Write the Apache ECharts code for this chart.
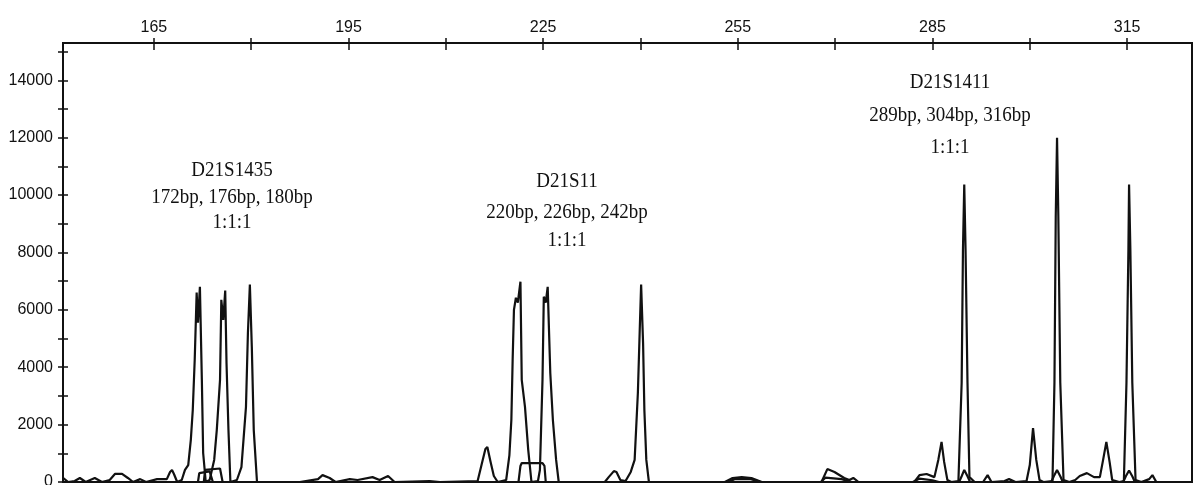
<!DOCTYPE html>
<html>
<head>
<meta charset="utf-8">
<script src="https://cdn.jsdelivr.net/npm/echarts@6/dist/echarts.min.js"></script>
<style>
html,body{margin:0;padding:0;background:#fff;}
#chart{width:1196px;height:485px;}
</style>
</head>
<body>
<div id="chart"></div>
<script>
// ---- data (size in bp, signal in RFU) ----
const xTickValues = [165, 180, 195, 210, 225, 240, 255, 270, 285, 300, 315];
const xLabelValues = [165, 195, 225, 255, 285, 315];
const yTickValues = [0,1000,2000,3000,4000,5000,6000,7000,8000,9000,10000,11000,12000,13000,14000,15000];
const yLabelValues = [0,2000,4000,6000,8000,10000,12000,14000];

// main trace
const traceA = [
  [151.0,140],[151.8,0],[152.8,35],[153.6,140],[154.5,0],[155.9,140],[157.0,0],[158.2,70],[159.0,280],[160.1,280],
  [161.0,140],[161.8,0],[162.9,100],[163.8,0],[165.5,100],[167.0,100],[167.5,350],[167.8,420],[168.1,280],[168.6,0],
  [169.3,70],[169.8,420],[170.3,590],[170.7,1470],[171.0,2510],[171.3,4260],[171.6,6600],[171.8,5550],[172.1,6800],
  [172.4,3560],[172.6,1010],[173.0,0],[173.6,70],[174.3,770],[174.7,1810],[175.2,3560],[175.4,6350],[175.7,5650],
  [176.0,6670],[176.2,4150],[176.5,1810],[176.8,0],[177.8,70],[178.5,520],[179.2,2620],[179.5,5200],[179.8,6880],
  [180.1,4710],[180.4,1810],[180.9,0],
  [187.5,0],[190.3,100],[191.0,240],[192.1,140],[193.0,0],[195.2,100],[196.4,70],[198.7,170],[199.8,70],[201.1,210],
  [202.1,0],[207.5,35],[209.1,0],[214.9,35],[215.5,590],[216.1,1150],[216.4,1220],[216.9,700],[217.4,210],[218.0,0],
  [219.3,70],[219.8,940],[220.1,2160],[220.3,4260],[220.5,6000],[220.8,6420],[221.1,6250],[221.5,6980],[221.7,3560],
  [222.2,2620],[222.7,1120],[223.2,0],[224.2,35],[224.5,420],[224.9,3560],[225.1,6460],[225.4,6250],[225.7,6800],
  [226.1,3800],[226.5,2160],[227.0,770],[227.4,0],
  [234.5,0],[235.1,170],[235.9,380],[236.3,350],[236.9,70],[237.7,35],[238.5,350],[239.1,770],[239.6,3110],[239.9,5410],
  [240.1,6880],[240.4,4850],[240.6,2510],[240.9,770],[241.3,0],
  [253.0,0],[254.2,140],[255.6,170],[257.1,140],[258.7,0],
  [267.9,0],[268.8,450],[269.9,350],[271.4,140],[272.2,70],[272.8,140],[273.6,0],
  [282.2,0],[283.0,240],[284.1,280],[285.3,170],[285.9,770],[286.4,1400],[286.8,700],[287.3,70],[287.9,0],
  [289.0,35],[289.5,3460],[289.7,8100],[289.9,10370],[290.1,8100],[290.4,3460],[290.7,170],[291.5,0],
  [292.8,0],[293.5,240],[294.1,0],[296.1,35],[296.8,100],[297.8,0],[299.5,35],[300.0,590],[300.5,1880],[301.0,770],
  [301.5,70],[302.1,0],[303.5,35],[303.8,3460],[304.0,9250],[304.2,12000],[304.4,9250],[304.7,3460],[305.2,70],[306.1,0],
  [307.0,70],[307.7,210],[308.8,310],[309.9,170],[310.8,170],[311.3,770],[311.8,1400],[312.3,700],[312.7,70],[313.8,0],
  [314.5,35],[314.9,3460],[315.2,8100],[315.3,10370],[315.5,8100],[315.8,3460],[316.3,70],[317.2,0],
  [318.4,100],[318.9,240],[319.5,0],[324.9,0]
];

// secondary traces (small overlapping peaks)
const traceB = [
  [151.0,0],[171.8,0],[172.0,310],[172.3,370],[173.6,370],[173.9,310],[174.1,0],
  [221.2,0],[221.5,560],[221.7,660],[224.9,660],[225.2,560],[225.4,0],
  [253.5,0],[254.5,100],[257.0,100],[258.5,0],
  [267.8,0],[268.5,150],[271.0,100],[272.5,0],
  [282.0,0],[283.0,120],[285.0,60],[286.0,0],
  [289.1,0],[289.5,200],[289.9,420],[290.4,200],[290.8,0],
  [303.3,0],[303.7,200],[304.2,420],[304.7,200],[305.1,0],
  [314.4,0],[314.8,200],[315.3,400],[315.8,200],[316.2,0],[324.9,0]
];
const traceC = [
  [172.7,0],[172.9,420],[173.2,470],[175.2,470],[175.4,420],[175.6,0]
];

const markers = [
  {lines: ['D21S1435', '172bp, 176bp, 180bp', '1:1:1'], x: 232, ys: [170, 197, 222]},
  {lines: ['D21S11', '220bp, 226bp, 242bp', '1:1:1'], x: 567, ys: [181, 212, 240]},
  {lines: ['D21S1411', '289bp, 304bp, 316bp', '1:1:1'], x: 950, ys: [82, 115, 147]}
];

const xMin = 151, xMax = 325, yMin = 0, yMax = 15300;
const axisFont = "'Liberation Sans', Arial, sans-serif";

const chart = echarts.init(document.getElementById('chart'), null, {renderer: 'canvas'});

const gridRect = {left: 63, top: 43, right: 4, bottom: 3};

const graphics = [];
markers.forEach(m => {
  m.lines.forEach((t, i) => {
    graphics.push({
      type: 'text', x: m.x, y: m.ys[i], scaleY: 1.12,
      style: {text: t, fill: '#111', font: "19px 'Liberation Serif', 'Times New Roman', serif",
              textAlign: 'center', textVerticalAlign: 'middle'}
    });
  });
});

const lineStyle = {color: '#111', width: 2.2};
const plain = v => String(v);

chart.setOption({
  animation: false,
  backgroundColor: '#fff',
  grid: [
    Object.assign({show: true, borderColor: '#111', borderWidth: 2, containLabel: false, outerBoundsMode: 'none'}, gridRect),
    Object.assign({show: false, containLabel: false, outerBoundsMode: 'none'}, gridRect)
  ],
  xAxis: [
    {
      type: 'value', gridIndex: 0, position: 'top', min: xMin, max: xMax,
      axisLine: {show: true, onZero: false, lineStyle: {color: '#111', width: 2}},
      axisTick: {show: true, inside: false, length: 5, customValues: xTickValues, lineStyle: {color: '#111', width: 1.5}},
      axisLabel: {show: true, customValues: xLabelValues, formatter: plain, color: '#111', fontFamily: axisFont, fontSize: 16, margin: 7},
      splitLine: {show: false}
    },
    {
      type: 'value', gridIndex: 1, position: 'top', min: xMin, max: xMax,
      axisLine: {show: false, onZero: false},
      axisTick: {show: true, inside: true, length: 7, customValues: xTickValues, lineStyle: {color: '#111', width: 1.5}},
      axisLabel: {show: false},
      splitLine: {show: false}
    }
  ],
  yAxis: [
    {
      type: 'value', gridIndex: 0, position: 'left', min: yMin, max: yMax,
      axisLine: {show: true, onZero: false, lineStyle: {color: '#111', width: 2}},
      axisTick: {show: true, inside: false, length: 5, customValues: yTickValues, lineStyle: {color: '#111', width: 1.5}},
      axisLabel: {show: true, customValues: yLabelValues, formatter: plain, color: '#111', fontFamily: axisFont, fontSize: 16, margin: 10},
      splitLine: {show: false}
    },
    {
      type: 'value', gridIndex: 1, position: 'left', min: yMin, max: yMax,
      axisLine: {show: false, onZero: false},
      axisTick: {show: true, inside: true, length: 5, customValues: yTickValues, lineStyle: {color: '#111', width: 1.5}},
      axisLabel: {show: false},
      splitLine: {show: false}
    }
  ],
  series: [
    {type: 'line', xAxisIndex: 0, yAxisIndex: 0, data: traceA, showSymbol: false, symbol: 'none', lineStyle: lineStyle, silent: true, clip: true},
    {type: 'line', xAxisIndex: 0, yAxisIndex: 0, data: traceB, showSymbol: false, symbol: 'none', lineStyle: lineStyle, silent: true, clip: true},
    {type: 'line', xAxisIndex: 0, yAxisIndex: 0, data: traceC, showSymbol: false, symbol: 'none', lineStyle: lineStyle, silent: true, clip: true}
  ],
  graphic: graphics
});
</script>
</body>
</html>
